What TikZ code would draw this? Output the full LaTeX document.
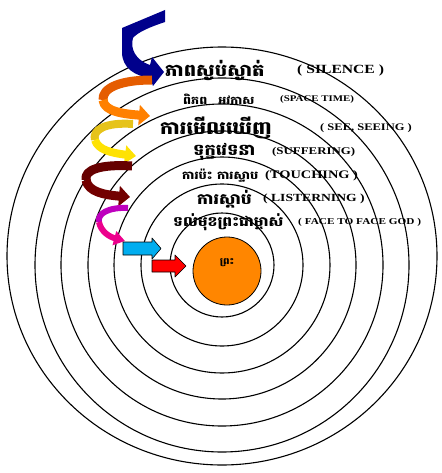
\documentclass[tikz,border=0pt]{standalone}
\usepackage{fontspec}
\setmainfont{Liberation Serif}
\newfontfamily\latin[FakeStretch=1.25]{Liberation Serif}
\newfontfamily\khmer[Script=Khmer,FakeStretch=1.15]{Battambang}
\usetikzlibrary{arrows.meta}
\definecolor{violettop}{RGB}{190,0,190}

\begin{document}
\begin{tikzpicture}[x=1pt,y=-1pt,line join=round,
  ring/.style={line width=1.1pt},
  kmtext/.style={anchor=west,inner sep=0pt,font=\khmer\bfseries\fontsize{#1}{#1}\selectfont},
  entext/.style={anchor=west,inner sep=0pt,font=\latin\bfseries\fontsize{#1}{#1}\selectfont},
  curl/.style={line width=#1,line cap=butt},
  curltip/.style={-{Triangle[length=11pt,width=#1]}},
  block/.style={draw=black,line width=0.6pt}]
  \useasboundingbox (0,0) rectangle (441,473);

  % rings
  \draw[ring] (222,256) ellipse (215 and 209);
  \foreach \r in {187,161,134,108,81,52}{
    \draw[ring] (222,265) circle (\r);
  }
  \draw[fill=orange!95!yellow,line width=0.8pt] (227,271) circle (34);
  \node[kmtext=9,anchor=center] (god) at (227,263) {ព្រះ};

  % labels
  \node[kmtext=17] (km1) at (165,70) {ភាពស្ងប់ស្ងាត់};
  \node[entext=12.5] (en1) at (297,70) {( SILENCE )};
  \node[kmtext=11] (km2) at (183,99) {ពិភព\quad អវកាស};
  \node[entext=8.7] (en2) at (280,99) {(SPACE TIME)};
  \node[kmtext=18] (km3) at (160,128) {ការមើលឃើញ};
  \node[entext=10] (en3) at (320,128) {( SEE, SEEING )};
  \node[kmtext=15.5] (km4) at (193,152) {ទុក្ខវេទនា};
  \node[entext=10.3] (en4) at (272,152) {(SUFFERING)};
  \node[kmtext=11.3] (km5) at (182,176) {ការប៉ះ ការស្ទាប};
  \node[entext=11.5] (en5) at (265,176) {(TOUCHING )};
  \node[kmtext=15] (km6) at (197,199) {ការស្តាប់};
  \node[entext=10.9] (en6) at (263,199) {( LISTERNING )};
  \node[kmtext=13.5] (km7) at (173,222) {ទល់មុខព្រះជាម្ចាស់};
  \node[entext=9] (en7) at (298,222) {( FACE TO FACE GOD )};

  % spiral arrows
  \fill[blue!55!black] (122,28) -- (165,10) -- (165,22) .. controls (150,27) and (138,32) .. (133,38)
    .. controls (130,48) and (135,60) .. (150,65) -- (152,57) -- (164,72) -- (153,86) -- (150,78)
    .. controls (135,76) and (122,68) .. (122,52) -- cycle;
  \draw[curl=9pt,orange!80!red!90!black] (152,80) .. controls (120,80) and (102,88) .. (103,100);
  \draw[curl=9pt,orange,curltip=20pt] (103,100) .. controls (104,112) and (125,114) .. (150,116);
  \draw[curl=8pt,yellow!70!orange!90!black] (133,124) .. controls (105,122) and (92,130) .. (95,140);
  \draw[curl=8pt,yellow!85!orange,curltip=18pt] (95,140) .. controls (98,150) and (112,153) .. (136,156);
  \draw[curl=9pt,red!40!black] (132,166) .. controls (100,164) and (84,170) .. (86,180);
  \draw[curl=9pt,red!45!black,curltip=20pt] (86,180) .. controls (88,192) and (105,195) .. (130,197);
  \draw[curl=6pt,violettop] (128,208) .. controls (108,207) and (97,214) .. (99,222);
  \draw[curl=6pt,magenta,curltip=14pt] (99,222) .. controls (101,232) and (110,237) .. (125,241);

  % straight arrows
  \draw[block,fill=cyan] (123,242) -- (152,242) -- (152,238) -- (161,248.5) -- (152,259) -- (152,255) -- (123,255) -- cycle;
  \draw[block,fill=red] (152,260) -- (175,260) -- (175,255) -- (186,266) -- (175,277) -- (175,272) -- (152,272) -- cycle;
\end{tikzpicture}
\end{document}
